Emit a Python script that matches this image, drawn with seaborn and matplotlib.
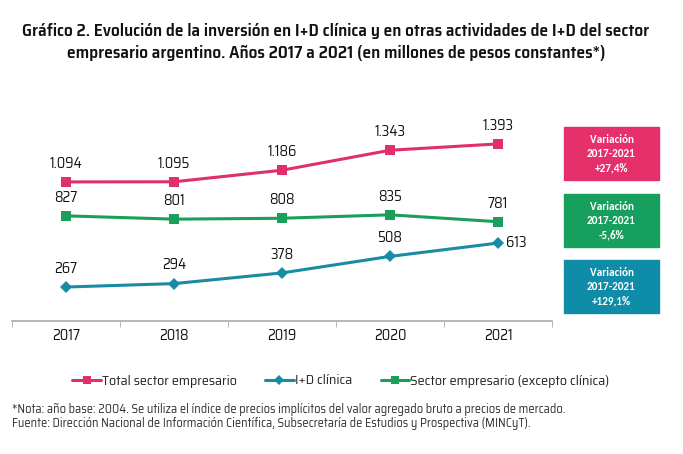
import matplotlib
matplotlib.use("Agg")
import matplotlib.pyplot as plt
import seaborn as sns
from matplotlib.lines import Line2D
from matplotlib.patches import Rectangle

# Datos (millones de pesos constantes)
years = [2017, 2018, 2019, 2020, 2021]
total_sector = [1094, 1095, 1186, 1343, 1393]
id_clinica = [267, 294, 378, 508, 613]
sector_excepto = [827, 801, 808, 835, 781]

total_labels = ["1.094", "1.095", "1.186", "1.343", "1.393"]
clinica_labels = ["267", "294", "378", "508", "613"]
excepto_labels = ["827", "801", "808", "835", "781"]

variaciones = ["+27,4%", "-5,6%", "+129,1%"]

PINK = "#E0306A"
BLUE = "#1A8BA5"
GREEN = "#1A9F5B"
BOX_COLORS = ["#E6306B", "#17A05D", "#0F8CA8"]

sns.set_style("white")
COND = ["Saira SemiCondensed", "Saira Condensed", "DejaVu Sans"]
BOXFONT = ["Carlito", "DejaVu Sans"]
plt.rcParams["font.family"] = COND

fig = plt.figure(figsize=(6.83, 4.54), dpi=100)
ax = fig.add_axes([0.0176, 0.293, 0.7906, 0.448])

series = [
    (total_sector, total_labels, PINK, "s", "Total sector empresario"),
    (id_clinica, clinica_labels, BLUE, "D", "I+D clínica"),
    (sector_excepto, excepto_labels, GREEN, "s", "Sector empresario (excepto clínica)"),
]
for vals, labs, col, mk, name in series:
    sns.lineplot(x=years, y=vals, ax=ax, color=col, lw=2.2, marker=mk,
                 markersize=7 if mk == "s" else 6, markeredgewidth=0,
                 legend=False)
    for i, (x, y, t) in enumerate(zip(years, vals, labs)):
        if name == "I+D clínica" and i == len(years) - 1:
            ax.annotate(t, (x, y), xytext=(6, 0), textcoords="offset points",
                        ha="left", va="center", fontsize=10.5, color="#111111")
        else:
            ax.annotate(t, (x, y), xytext=(0, 8), textcoords="offset points",
                        ha="center", va="bottom", fontsize=10.5, color="#111111")

ax.set_xlim(2016.5, 2021.5)
ax.set_ylim(0, 1600)
ax.set_xticks(years)
ax.set_xticklabels([str(y) for y in years], fontsize=10.5, color="#111111")
ax.set_xticks([y + 0.5 for y in [2016] + years], minor=True)
ax.tick_params(axis="x", which="major", length=0, pad=6)
ax.tick_params(axis="x", which="minor", bottom=True, length=4,
               color="#AAAAAA", direction="out")
ax.set_yticks([])
for s in ["top", "right", "left"]:
    ax.spines[s].set_visible(False)
ax.spines["bottom"].set_color("#AAAAAA")
ax.spines["bottom"].set_linewidth(1.2)

# Título
fig.text(336 / 683, 1 - 31 / 454,
         "Gráfico 2. Evolución de la inversión en I+D clínica y en otras actividades de I+D del sector",
         ha="center", va="center", fontsize=12.5, fontweight="semibold", color="#111111")
fig.text(336 / 683, 1 - 53 / 454,
         "empresario argentino. Años 2017 a 2021 (en millones de pesos constantes*)",
         ha="center", va="center", fontsize=12.5, fontweight="semibold", color="#111111")

# Cajas de variación
box_tops = [127, 194, 260]
for top, col, var in zip(box_tops, BOX_COLORS, variaciones):
    x0 = 564 / 683
    w = 95 / 683
    h = 53 / 454
    y0 = 1 - (top + 53) / 454
    fig.patches.append(Rectangle((x0, y0), w, h, transform=fig.transFigure,
                                 color=col, zorder=0))
    fig.text(x0 + w / 2, y0 + h / 2, f"Variación\n2017-2021\n{var}",
             ha="center", va="center", fontsize=8, fontweight="bold",
             color="white", family=BOXFONT, linespacing=1.35)

# Leyenda
handles = [
    Line2D([], [], color=PINK, lw=2.2, marker="s", markersize=6, markeredgewidth=0),
    Line2D([], [], color=BLUE, lw=2.2, marker="D", markersize=5, markeredgewidth=0),
    Line2D([], [], color=GREEN, lw=2.2, marker="s", markersize=6, markeredgewidth=0),
]
fig.legend(handles, [s[4] for s in series], loc="center", ncol=3,
           bbox_to_anchor=(341 / 683, 1 - 381 / 454), frameon=False,
           fontsize=10.2, handlelength=2.0, handletextpad=0.1, columnspacing=2.0)

# Notas
fig.text(12 / 683, 1 - 409 / 454,
         "*Nota: año base: 2004. Se utiliza el índice de precios implícitos del valor agregado bruto a precios de mercado.",
         ha="left", va="center", fontsize=8.9, color="#333333")
fig.text(12 / 683, 1 - 424 / 454,
         "Fuente: Dirección Nacional de Información Científica, Subsecretaría de Estudios y Prospectiva (MINCyT).",
         ha="left", va="center", fontsize=8.9, color="#333333")

fig.savefig("out.png", dpi=100, facecolor="white")
